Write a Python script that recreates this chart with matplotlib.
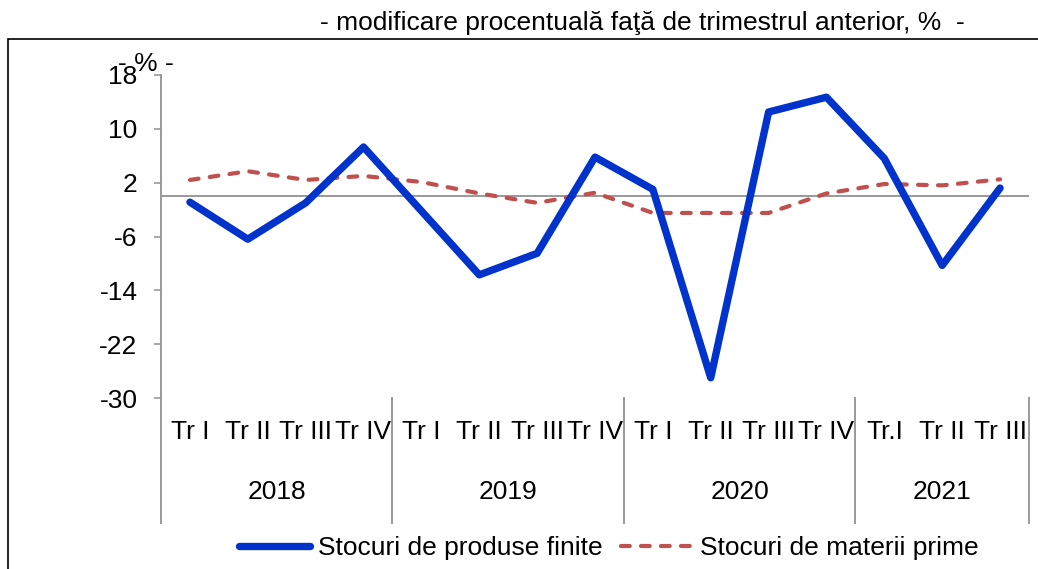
import matplotlib
matplotlib.use("Agg")
import matplotlib.pyplot as plt
from matplotlib.patches import Rectangle
from matplotlib.lines import Line2D

plt.rcParams['font.family'] = ['Liberation Sans', 'DejaVu Sans']
plt.rcParams['axes.unicode_minus'] = False

quarters = ["Tr I", "Tr II", "Tr III", "Tr IV",
            "Tr I", "Tr II", "Tr III", "Tr IV",
            "Tr I", "Tr II", "Tr III", "Tr IV",
            "Tr.I", "Tr II", "Tr III"]
years = ["2018", "2019", "2020", "2021"]
year_sizes = [4, 4, 4, 3]

produse_finite = [-0.9, -6.4, -1.0, 7.3, -2.2, -11.7, -8.5, 5.8,
                  1.0, -27.0, 12.5, 14.7, 5.6, -10.3, 1.2]
materii_prime = [2.4, 3.7, 2.4, 3.0, 2.1, 0.4, -1.0, 0.5,
                 -2.5, -2.5, -2.5, 0.4, 1.8, 1.6, 2.5]

FS = 19
W, H = 1038, 569
fig = plt.figure(figsize=(W / 100, H / 100), dpi=100)

# frame round the chart area
fig.patches.append(Rectangle((8 / W, -0.01), 1.0, (H - 39) / H + 0.01,
                             transform=fig.transFigure, fill=False,
                             edgecolor="black", lw=1.2))

ax_left, ax_right = 161 / W, 1029 / W
ax_bottom, ax_top = (H - 398) / H, (H - 75) / H
ax = fig.add_axes([ax_left, ax_bottom, ax_right - ax_left, ax_top - ax_bottom])
ax.patch.set_alpha(0)

x = list(range(len(quarters)))
ax.axhline(0, color="#999999", lw=1.4, zorder=1)
ax.plot(x, produse_finite, color="#0033CC", lw=5.3, solid_capstyle="round",
        solid_joinstyle="round", label="Stocuri de produse finite", zorder=3)
ax.plot(x, materii_prime, color="#C0504D", lw=3, dashes=(2.1, 2.7),
        dash_capstyle="round", label="Stocuri de materii prime", zorder=2)

ax.set_xlim(-0.5, len(quarters) - 0.5)
ax.set_ylim(-30, 18)
ax.set_yticks(range(-30, 19, 8))
ax.tick_params(axis="y", labelsize=FS, length=5, width=1.2, color="#999999", pad=12)
ax.set_xticks([])
for s in ["top", "right", "bottom"]:
    ax.spines[s].set_visible(False)
ax.spines["left"].set_color("#999999")
ax.spines["left"].set_linewidth(1.4)

ah = (398 - 75)
sep_bottom = -(523 - 398) / ah
q_y = -(432 - 398) / ah
y_y = -(492 - 398) / ah

for i, q in enumerate(quarters):
    ax.text(i, q_y, q, transform=ax.get_xaxis_transform(), ha="center",
            va="center", fontsize=FS)

start = 0
bounds = [-0.5]
for yr, n in zip(years, year_sizes):
    ax.text(start + (n - 1) / 2, y_y, yr, transform=ax.get_xaxis_transform(),
            ha="center", va="center", fontsize=FS)
    start += n
    bounds.append(start - 0.5)

for b in bounds:
    ax.add_line(Line2D([b, b], [0, sep_bottom], transform=ax.get_xaxis_transform(),
                       color="#999999", lw=1.4, clip_on=False))

fig.text(642 / W, 1 - 23 / H,
         "- modificare procentuală faţă de trimestrul anterior, %  -",
         ha="center", va="center", fontsize=FS)
fig.text(146 / W, 1 - 64 / H, "- % -", ha="center", va="center", fontsize=FS)

ax.legend(loc="center", bbox_to_anchor=(609 / W, 1 - 548 / H),
          bbox_transform=fig.transFigure, ncol=2, frameon=False, fontsize=FS,
          handlelength=2.7, handletextpad=0.3, columnspacing=0.7)

fig.savefig("out.png", dpi=100)
